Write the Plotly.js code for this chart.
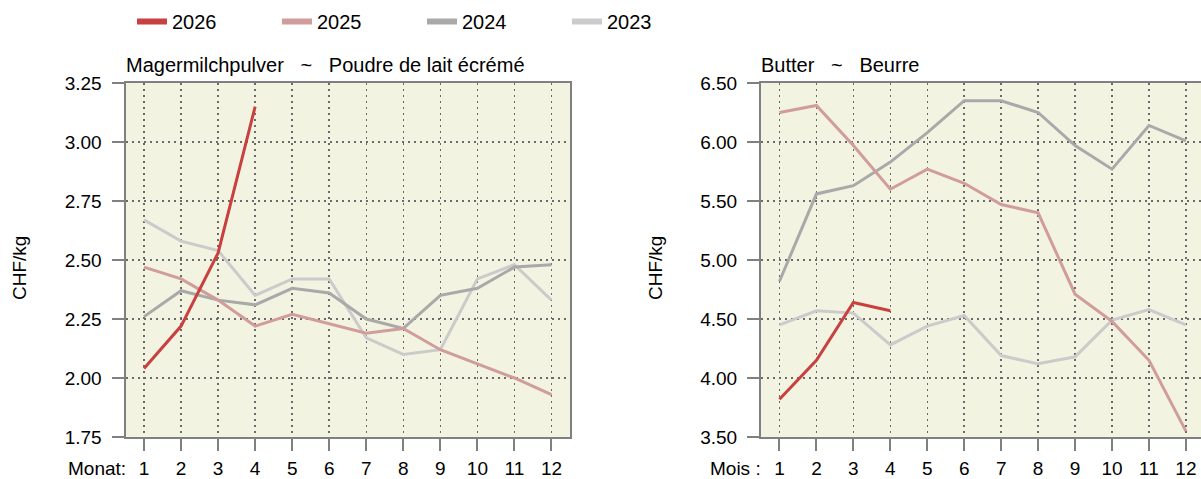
<!DOCTYPE html>
<html>
<head>
<meta charset="utf-8">
<script src="https://cdn.plot.ly/plotly-3.0.1.min.js"></script>
<style>html,body{margin:0;padding:0;background:#fff;}#chart{width:1201px;height:479px;}</style>
</head>
<body>
<div id="chart"></div>
<script>
const months = [1,2,3,4,5,6,7,8,9,10,11,12];
const years = ['2026','2025','2024','2023'];
const colors = ['#c8403f','#d09c9c','#a9a9a9','#cbcbcb'];

// Magermilchpulver ~ Poudre de lait écrémé (CHF/kg)
const smp2026 = [2.04, 2.22, 2.53, 3.15];
const smp2025 = [2.47, 2.42, 2.33, 2.22, 2.27, 2.23, 2.19, 2.21, 2.12, 2.06, 2.00, 1.93];
const smp2024 = [2.26, 2.37, 2.33, 2.31, 2.38, 2.36, 2.25, 2.21, 2.35, 2.38, 2.47, 2.48];
const smp2023 = [2.67, 2.58, 2.54, 2.35, 2.42, 2.42, 2.17, 2.10, 2.12, 2.42, 2.48, 2.33];

// Butter ~ Beurre (CHF/kg)
const but2026 = [3.82, 4.15, 4.64, 4.57];
const but2025 = [6.25, 6.31, 5.97, 5.60, 5.77, 5.65, 5.47, 5.40, 4.71, 4.48, 4.15, 3.55];
const but2024 = [4.82, 5.56, 5.63, 5.83, 6.08, 6.35, 6.35, 6.25, 5.97, 5.77, 6.14, 6.01];
const but2023 = [4.45, 4.57, 4.55, 4.28, 4.44, 4.53, 4.19, 4.12, 4.18, 4.49, 4.58, 4.45];

const leftTicks = ['1.75','2.00','2.25','2.50','2.75','3.00','3.25'];
const rightTicks = ['3.50','4.00','4.50','5.00','5.50','6.00','6.50'];

const smpSeries = [smp2026, smp2025, smp2024, smp2023];
const butSeries = [but2026, but2025, but2024, but2023];

const FONT = 'Liberation Sans, Arial, sans-serif';
const FS = 19;
const traces = [];
// draw older years first so 2026 is on top
for (let i = years.length - 1; i >= 0; i--) {
  traces.push({x: months.slice(0, smpSeries[i].length), y: smpSeries[i], xaxis:'x', yaxis:'y',
    type:'scatter', mode:'lines', line:{color:colors[i], width:3}, showlegend:false, name:years[i], hoverinfo:'skip'});
  traces.push({x: months.slice(0, butSeries[i].length), y: butSeries[i], xaxis:'x2', yaxis:'y2',
    type:'scatter', mode:'lines', line:{color:colors[i], width:3}, showlegend:false, name:years[i], hoverinfo:'skip'});
}
// legend entries
for (let i = 0; i < years.length; i++) {
  traces.push({x:[null], y:[null], xaxis:'x', yaxis:'y', type:'scatter', mode:'lines',
    line:{color:colors[i], width:6}, name:years[i], showlegend:true});
}

const W = 1201, H = 479;
const axBase = {
  showline:true, linecolor:'#808080', linewidth:2,
  ticks:'outside', ticklen:12, tickwidth:2, tickcolor:'#808080',
  showgrid:true, gridcolor:'#6a6a6a', griddash:'2px,4px', gridwidth:1.5,
  zeroline:false, tickfont:{family:FONT, size:FS, color:'#000'}, fixedrange:true
};
const sp = '\u00a0\u00a0\u00a0';
const layout = {
  width:W, height:H,
  margin:{l:0, r:0, t:83, b:42},
  paper_bgcolor:'#ffffff', plot_bgcolor:'#f3f3e2',
  font:{family:FONT, size:FS, color:'#000'},
  showlegend:true,
  legend:{orientation:'h', x:132/W, xanchor:'left', y:1 - 2/H, yanchor:'top', yref:'container',
    font:{family:FONT, size:20, color:'#000'}, entrywidth:100, entrywidthmode:'pixels',
    bgcolor:'rgba(0,0,0,0)', traceorder:'normal'},
  xaxis:Object.assign({}, axBase, {domain:[125.5/W, 570/W], range:[0.5,12.5], tickmode:'array',
    tickvals:months, ticktext:months.map(String), mirror:true, anchor:'y', ticklabelstandoff:1}),
  yaxis:Object.assign({}, axBase, {domain:[0,1], range:[1.75,3.25], tickmode:'array',
    tickvals:leftTicks.map(Number), ticktext:leftTicks, mirror:true, anchor:'x', ticklabelstandoff:6}),
  xaxis2:Object.assign({}, axBase, {domain:[761/W, 1], range:[0.5, 0.5 + 440/36.95], tickmode:'array',
    tickvals:months, ticktext:months.map(String), mirror:true, anchor:'y2', ticklabelstandoff:1}),
  yaxis2:Object.assign({}, axBase, {domain:[0,1], range:[3.5,6.5], tickmode:'array',
    tickvals:rightTicks.map(Number), ticktext:rightTicks, mirror:false, anchor:'x2', ticklabelstandoff:6}),
  annotations:[
    {text:'Magermilchpulver' + sp + '~' + sp + 'Poudre de lait écrémé', xref:'paper', yref:'paper',
     x:125.5/W, xanchor:'left', y:1, yanchor:'bottom', yshift:5, xshift:-2, showarrow:false, font:{family:FONT, size:20}},
    {text:'Butter' + sp + '~' + sp + 'Beurre', xref:'paper', yref:'paper',
     x:761/W, xanchor:'left', y:1, yanchor:'bottom', yshift:5, xshift:-2, showarrow:false, font:{family:FONT, size:20}},
    {text:'Monat:', xref:'paper', yref:'paper', x:128/W, xanchor:'right', y:0, yanchor:'middle', yshift:-31,
     showarrow:false, font:{family:FONT, size:FS}},
    {text:'Mois :', xref:'paper', yref:'paper', x:763/W, xanchor:'right', y:0, yanchor:'middle', yshift:-31,
     showarrow:false, font:{family:FONT, size:FS}},
    {text:'CHF/kg', xref:'paper', yref:'paper', x:19/W, xanchor:'center', y:0.5, yanchor:'middle', yshift:-8,
     textangle:-90, showarrow:false, font:{family:FONT, size:FS}},
    {text:'CHF/kg', xref:'paper', yref:'paper', x:655/W, xanchor:'center', y:0.5, yanchor:'middle', yshift:-8,
     textangle:-90, showarrow:false, font:{family:FONT, size:FS}}
  ]
};
Plotly.newPlot('chart', traces, layout, {staticPlot:true, displayModeBar:false});
</script>
</body>
</html>
